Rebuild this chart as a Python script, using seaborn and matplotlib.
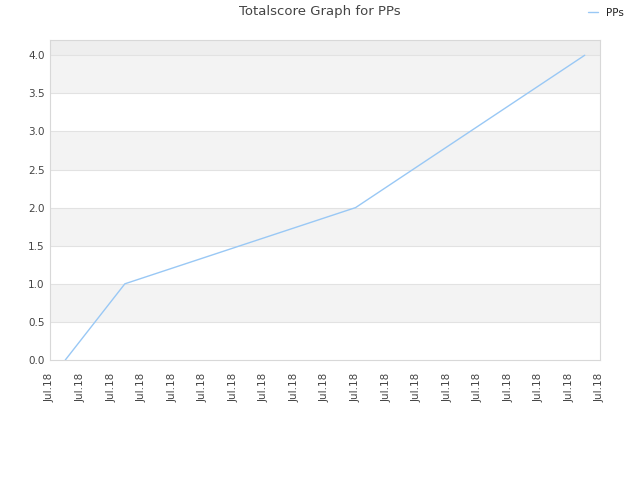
import matplotlib
matplotlib.use("Agg")
import matplotlib.pyplot as plt
import seaborn as sns
import pandas as pd
import numpy as np

# data
x_pos = [0.5, 2.45, 10.0, 17.5]
scores = [0.0, 1.0, 2.0, 4.0]
tick_labels = ["Jul.18"] * 19
series_name = "PPs"

sns.set_theme(style="white")
plt.rcParams['font.family'] = ['DejaVu Sans']

fig = plt.figure(figsize=(6.4, 4.8), dpi=100)
ax = fig.add_axes([50/640, 1-360/480, 550/640, 320/480])

ymax = 4.2
# alternating bands
for lo in np.arange(0, 4.0, 1.0):
    ax.axhspan(lo + 0.5, lo + 1.0, color="#f3f3f3", zorder=0, lw=0)
ax.axhspan(4.0, ymax, color="#eeeeee", zorder=0, lw=0)
for yv in np.arange(0.5, 4.01, 0.5):
    ax.axhline(yv, color="#e2e2e2", lw=0.8, zorder=1)

df = pd.DataFrame({"x": x_pos, "y": scores, "s": series_name})
sns.lineplot(data=df, x="x", y="y", hue="s", palette=["#99c8f5"], lw=1, ax=ax, zorder=3)

ax.set_xlim(0, 18)
ax.set_ylim(0, ymax)
ax.set_xticks(range(19))
ax.set_xticklabels(tick_labels, rotation=90, fontsize=7.5, color="#444444")
ax.set_yticks(np.arange(0, 4.01, 0.5))
ax.set_yticklabels([f"{v:.1f}" for v in np.arange(0, 4.01, 0.5)], fontsize=7.5, color="#444444")
ax.tick_params(axis="y", length=0, pad=4)
ax.tick_params(axis="x", length=0, pad=9)
ax.set_xlabel("")
ax.set_ylabel("")
for sp in ax.spines.values():
    sp.set_color("#d8d8d8")
    sp.set_linewidth(0.8)

fig.suptitle("Totalscore Graph for PPs", x=320/640, y=1-12/480, va="center", fontsize=9.5, color="#444444")
leg = ax.legend(loc="center", bbox_to_anchor=(606/640, 1-13/480), bbox_transform=fig.transFigure,
                frameon=False, fontsize=7.5, handlelength=1.0, handletextpad=0.8)
for t in leg.get_texts():
    t.set_color("#222222")

fig.savefig("out.png", dpi=100)
